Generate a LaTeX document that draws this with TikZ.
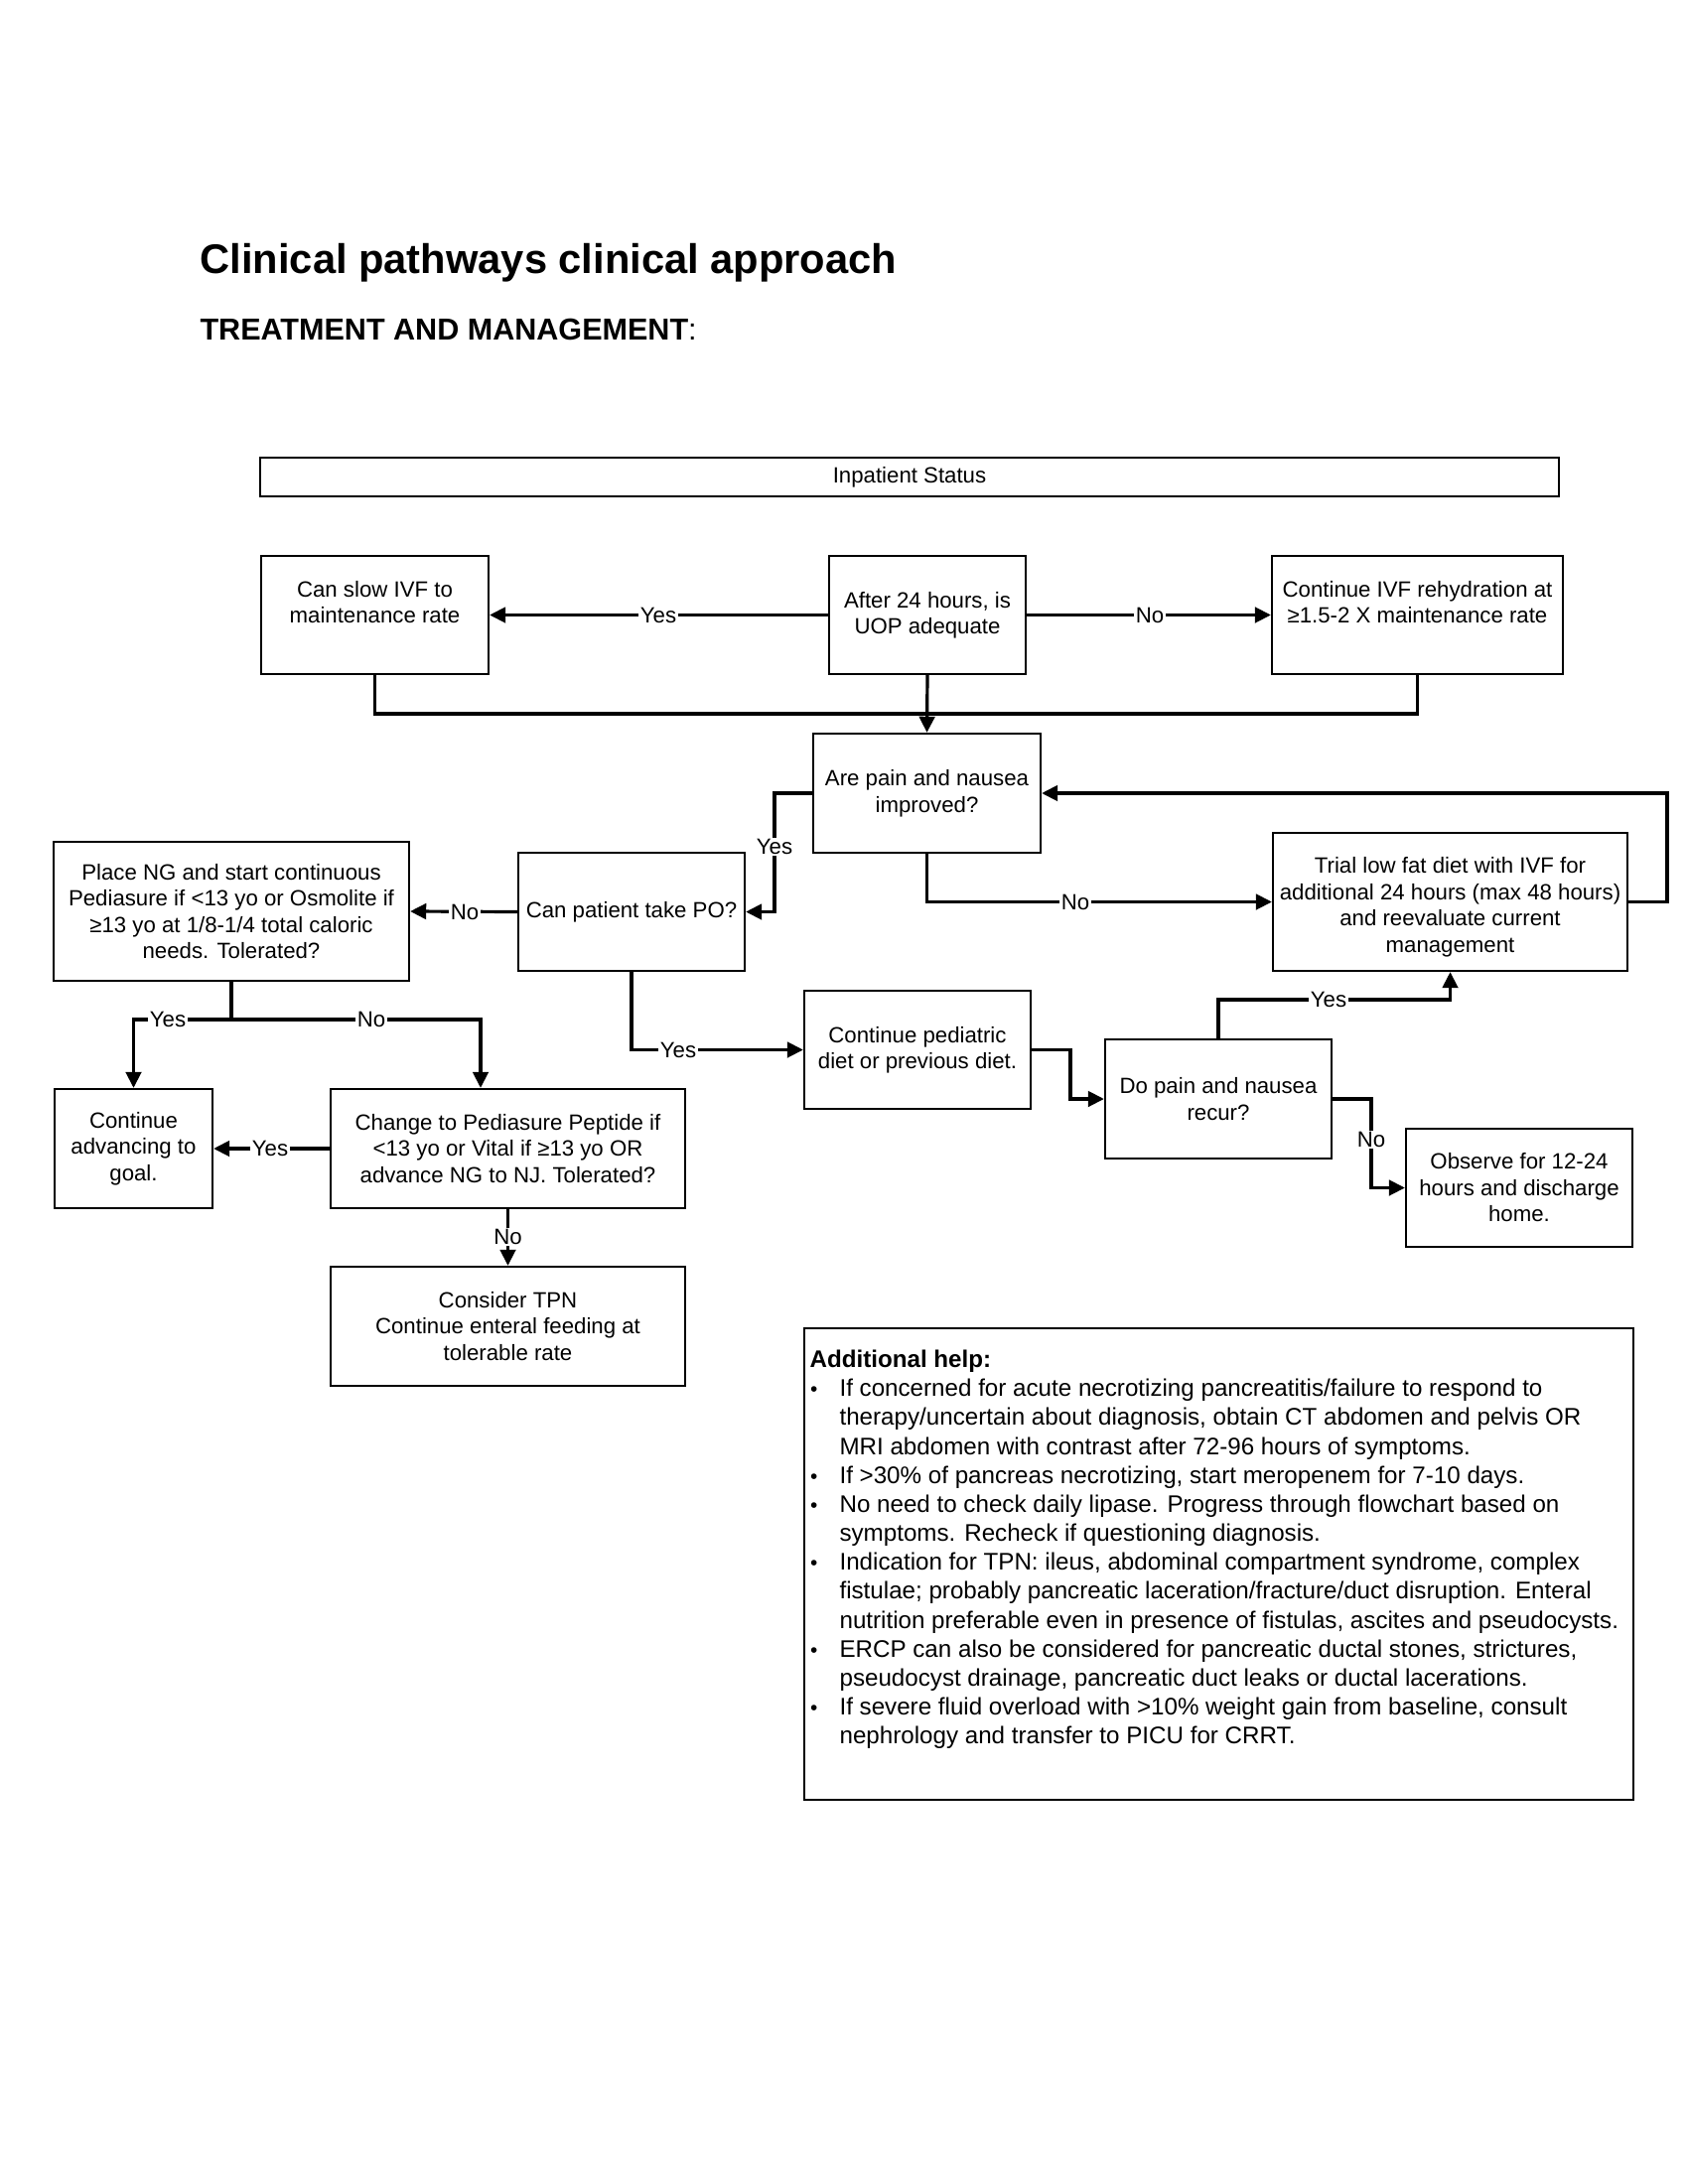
\documentclass[tikz,border=0pt]{standalone}
\usepackage{fontspec}
\setmainfont{Liberation Sans}
\usetikzlibrary{arrows.meta,calc}
\newcommand{\boxfont}{\fontsize{8}{9.54}\selectfont}
\newcommand{\helpfont}{\fontsize{8.7}{10.5}\selectfont}
\newcommand{\hbul}{\hspace*{0.2pt}{\fontsize{7.5}{7.5}\selectfont\textbullet}}
\begin{document}
\begin{tikzpicture}[x=0.36pt,y=-0.36pt,
  bw/.style={minimum width=#1*0.36pt},
  bh/.style={minimum height=#1*0.36pt},
  fbox/.style={draw, line width=0.8pt, align=center, font=\boxfont, inner sep=0pt},
  conn/.style={line width=1.15pt},
  arr/.style={conn, -{Triangle[length=5.8pt,width=5.6pt]}},
  lbl/.style={fill=white, inner sep=0.6pt, font=\boxfont},
]
\useasboundingbox (0,0) rectangle (1700,2200);
\fill[white] (0,0) rectangle (1700,2200);

% titles
\node[anchor=base west, inner sep=0, font=\bfseries\fontsize{15}{18}\selectfont] (title) at (201,275) {Clinical pathways clinical approach};
\node[anchor=base west, inner sep=0, font=\fontsize{11}{13}\selectfont] (sub) at (201,342) {\textbf{TREATMENT AND MANAGEMENT}:};

% boxes
\node[fbox, bw=1308, bh=39] (inp) at (916,480.5) {Inpatient Status};
\node[fbox, bw=229, bh=119] (slow) at (377.5,619.5) {Can slow IVF to\\maintenance rate\\~};
\node[fbox, bw=198, bh=119] (after) at (934,619.5) {After 24 hours, is\\UOP adequate};
\node[fbox, bw=293, bh=119] (cont) at (1427.5,619.5) {Continue IVF rehydration at\\≥1.5-2 X maintenance rate\\~};
\node[fbox, bw=229, bh=120] (pain) at (933.5,799) {Are pain and nausea\\improved?};
\node[fbox, bw=357, bh=139] (trial) at (1460.5,908.5) {~\\Trial low fat diet with IVF for\\additional 24 hours (max 48 hours)\\and reevaluate current\\management};
\node[fbox, bw=358, bh=140] (place) at (233,918) {Place NG and start continuous\\Pediasure if <13 yo or Osmolite if\\≥13 yo at 1/8-1/4 total caloric\\needs. Tolerated?};
\node[fbox, bw=228, bh=119] (po) at (636,918.5) {Can patient take PO?};
\node[fbox, bw=159, bh=120] (goal) at (134.5,1157) {Continue\\advancing to\\goal.};
\node[fbox, bw=357, bh=120] (change) at (511.5,1157) {Change to Pediasure Peptide if\\<13 yo or Vital if ≥13 yo OR\\advance NG to NJ. Tolerated?};
\node[fbox, bw=357, bh=120] (tpn) at (511.5,1336) {Consider TPN\\Continue enteral feeding at\\tolerable rate};
\node[fbox, bw=228, bh=119] (diet) at (924,1057.5) {Continue pediatric\\diet or previous diet.};
\node[fbox, bw=228, bh=120] (recur) at (1227,1107) {Do pain and nausea\\recur?};
\node[fbox, bw=228, bh=119] (obs) at (1530,1196.5) {Observe for 12-24\\hours and discharge\\home.};

% help box
\node[draw, line width=0.8pt, bw=835, bh=475, anchor=north west, inner sep=0pt] (helpbox) at (809,1337) {};
\node[anchor=north west, inner sep=0pt, font=\helpfont] (helptxt) at (815,1356.6) {%
\begin{tabular}{@{}p{10.8pt}@{}l@{}}
\multicolumn{2}{@{}l@{}}{\textbf{Additional help:}}\\
\hbul & If concerned for acute necrotizing pancreatitis/failure to respond to\\
 & therapy/uncertain about diagnosis, obtain CT abdomen and pelvis OR\\
 & MRI abdomen with contrast after 72-96 hours of symptoms.\\
\hbul & If >30\% of pancreas necrotizing, start meropenem for 7-10 days.\\
\hbul & No need to check daily lipase. Progress through flowchart based on\\
 & symptoms. Recheck if questioning diagnosis.\\
\hbul & Indication for TPN: ileus, abdominal compartment syndrome, complex\\
 & fistulae; probably pancreatic laceration/fracture/duct disruption. Enteral\\
 & nutrition preferable even in presence of fistulas, ascites and pseudocysts.\\
\hbul & ERCP can also be considered for pancreatic ductal stones, strictures,\\
 & pseudocyst drainage, pancreatic duct leaks or ductal lacerations.\\
\hbul & If severe fluid overload with >10\% weight gain from baseline, consult\\
 & nephrology and transfer to PICU for CRRT.
\end{tabular}};

% connectors
\draw[arr] (after.west) -- (slow.east);
\node[lbl] (lyes1) at (663,619.5) {Yes};
\draw[arr] (after.east) -- (cont.west);
\node[lbl] (lno1) at (1158,619.5) {No};

\coordinate (j) at (934,719);
\draw[conn] (slow.south) |- (j) -| (cont.south);
\draw[arr] (after.south) -- (pain.north);

\coordinate (py) at (780,799);
\draw[arr] (pain.west) -- (py) |- (po.east);
\node[lbl] (lyes2) at (780,853) {Yes};

\draw[arr] (pain.south) |- (trial.west);
\node[lbl] (lno2) at (1083,908.5) {No};

\coordinate (fb) at (1679,799);
\draw[arr] (trial.east) -| (fb) -- (pain.east);

\draw[arr] (po.west) -- (place.east);
\node[lbl] (lno3) at (468,918.5) {No};

\draw[arr] (po.south) |- (diet.west);
\node[lbl] (lyes3) at (683,1057.5) {Yes};

\coordinate (k) at (233,1027);
\draw[conn] (place.south) -- (k);
\draw[arr] (k) -| (goal.north);
\draw[arr] (k) -| ($(change.north)+(-27.5,0)$);
\node[lbl] (lyes4) at (169,1027) {Yes};
\node[lbl] (lno4) at (374,1027) {No};

\draw[arr] (change.west) -- (goal.east);
\node[lbl] (lyes5) at (272,1157) {Yes};

\draw[arr] (change.south) -- (tpn.north);
\node[lbl] (lno5) at (511.5,1246) {No};

\coordinate (d1) at (1078,1057.5);
\draw[arr] (diet.east) -- (d1) |- (recur.west);

\coordinate (r1) at (1227,1007);
\draw[arr] (recur.north) -- (r1) -| (trial.south);
\node[lbl] (lyes6) at (1338,1007) {Yes};

\coordinate (r2) at (1381,1107);
\draw[arr] (recur.east) -- (r2) |- (obs.west);
\node[lbl] (lno6) at (1381,1148) {No};
\end{tikzpicture}
\end{document}
